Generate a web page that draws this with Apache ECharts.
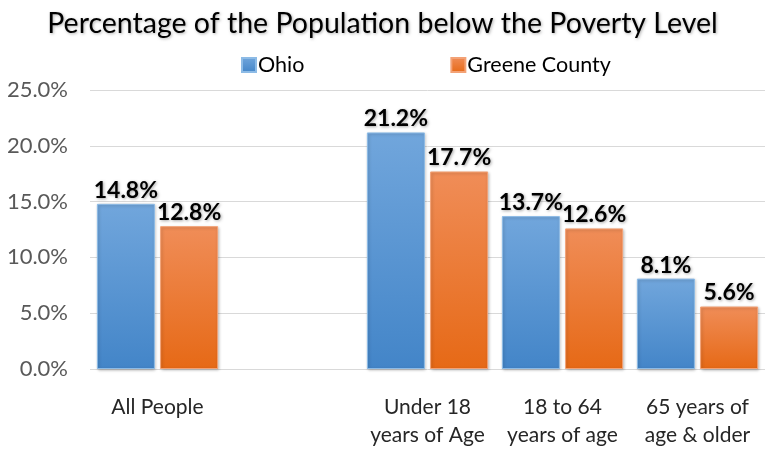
<!DOCTYPE html>
<html>
<head>
<meta charset="utf-8">
<script src="https://cdn.jsdelivr.net/npm/echarts@6/dist/echarts.min.js"></script>
<style>
html, body { margin: 0; padding: 0; background: #fff; }
#main { width: 765px; height: 449px; }
</style>
</head>
<body>
<div id="main"></div>
<script>
var categories = ['All People', '', 'Under 18\nyears of Age', '18 to 64\nyears of age', '65 years of\nage & older'];
var ohio = [14.8, null, 21.2, 13.7, 8.1];
var greene = [12.8, null, 17.7, 12.6, 5.6];
var seriesNames = ['Ohio', 'Greene County'];
var yTicks = { min: 0, max: 25, interval: 5 };

var fontFam = 'Lato, "Open Sans", sans-serif';

function grad(top, bottom) {
    return new echarts.graphic.LinearGradient(0, 0, 0, 1, [
        { offset: 0, color: top },
        { offset: 1, color: bottom }
    ]);
}

var labelStyle = {
    show: true,
    position: 'top',
    distance: 2,
    color: '#000',
    fontFamily: fontFam,
    fontWeight: 'bold',
    fontSize: 23,
    textShadowColor: 'rgba(0,0,0,0.35)',
    textShadowBlur: 3,
    textShadowOffsetX: 1,
    textShadowOffsetY: 1,
    formatter: function (p) { return p.value.toFixed(1) + '%'; }
};

var chart = echarts.init(document.getElementById('main'));
chart.setOption({
    animation: false,
    title: {
        text: 'Percentage of the Population below the Poverty Level',
        left: 'center',
        top: 4,
        textStyle: {
            fontFamily: fontFam,
            fontWeight: 'normal',
            fontSize: 28.5,
            color: '#000',
            textShadowColor: 'rgba(0,0,0,0.3)',
            textShadowBlur: 3,
            textShadowOffsetX: 1,
            textShadowOffsetY: 1
        }
    },
    legend: {
        data: seriesNames,
        top: 49,
        left: 236,
        itemWidth: 14,
        itemHeight: 14,
        itemGap: 146,
        icon: 'rect',
        textStyle: {
            fontFamily: fontFam,
            fontSize: 21.5,
            color: '#000',
            padding: [0, 0, 0, -3]
        }
    },
    grid: {
        left: 90,
        width: 677,
        top: 90,
        bottom: 72
    },
    xAxis: {
        type: 'category',
        data: categories,
        axisLine: { show: false },
        axisTick: { show: false },
        axisLabel: {
            interval: 0,
            margin: 24,
            fontFamily: fontFam,
            fontSize: 21,
            lineHeight: 28,
            color: '#262626'
        }
    },
    yAxis: {
        type: 'value',
        min: yTicks.min,
        max: yTicks.max,
        interval: yTicks.interval,
        axisLine: { show: false },
        axisTick: { show: false },
        splitLine: { lineStyle: { color: '#d9d9d9', width: 1 } },
        axisLabel: {
            margin: 22,
            fontFamily: fontFam,
            fontSize: 22,
            color: '#595959',
            formatter: function (v) { return v.toFixed(1) + '%'; }
        }
    },
    series: [
        {
            name: seriesNames[0],
            type: 'bar',
            data: ohio,
            barWidth: 58,
            barGap: '9%',
            itemStyle: {
                color: grad('#71a6dc', '#4385c8'),
                borderColor: '#8dbbe6',
                borderWidth: 1,
                shadowColor: 'rgba(0,0,0,0.25)',
                shadowBlur: 3,
                shadowOffsetX: 1,
                shadowOffsetY: 1
            },
            label: labelStyle
        },
        {
            name: seriesNames[1],
            type: 'bar',
            data: greene,
            barWidth: 58,
            barGap: '9%',
            itemStyle: {
                color: grad('#f08d58', '#e66916'),
                borderColor: '#f3a276',
                borderWidth: 1,
                shadowColor: 'rgba(0,0,0,0.25)',
                shadowBlur: 3,
                shadowOffsetX: 1,
                shadowOffsetY: 1
            },
            label: labelStyle
        }
    ],
    color: ['#5b9bd5', '#ed7d31']
});
</script>
</body>
</html>
